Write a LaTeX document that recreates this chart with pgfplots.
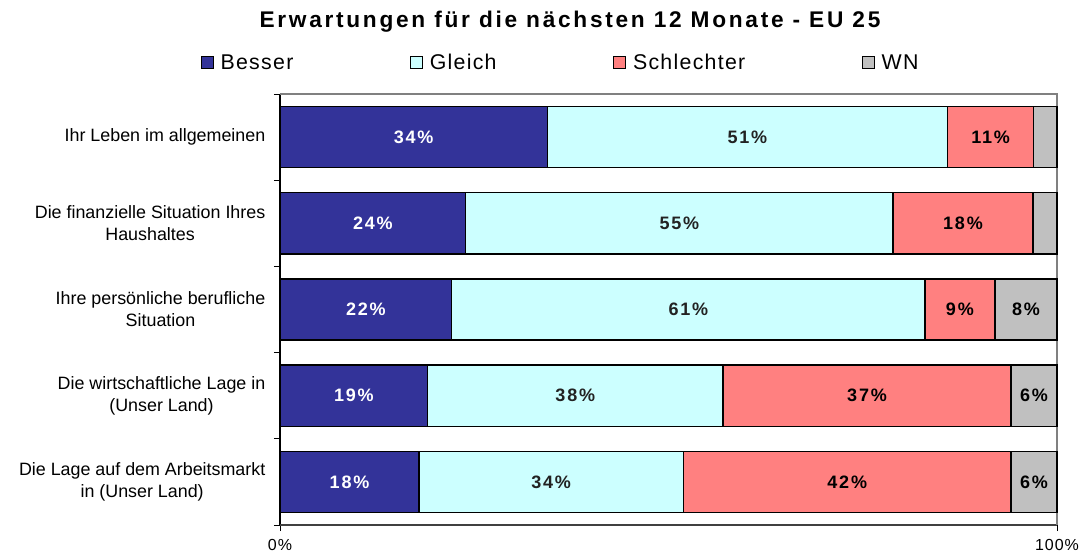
\documentclass[border=0pt]{standalone}
\usepackage{fontspec}
\setmainfont{Liberation Sans}
\newfontfamily\spacedfont[LetterSpace=6]{Liberation Sans}
\newfontfamily\barfont[LetterSpace=10]{Liberation Sans}
\newfontfamily\titlefont[LetterSpace=12]{Liberation Sans}
\usepackage{pgfplots}
\usepackage{pgfplotstable}
\pgfplotsset{compat=1.18}
\newlength\px \setlength\px{0.75pt}
\definecolor{besser}{HTML}{333399}
\definecolor{gleich}{HTML}{CCFFFF}
\definecolor{schlecht}{HTML}{FF8080}
\definecolor{wn}{HTML}{C0C0C0}
\definecolor{lbl}{HTML}{222222}

\pgfplotstableread{
y B G S W lB lG lS lW
4 34.4 51.5 11.1 3.0 34\% 51\% 11\% {}
3 23.9 55.0 18.0 3.1 24\% 55\% 18\% {}
2 22.1 60.9 9.0 8.0 22\% 61\% 9\% 8\%
1 19.0 38.0 37.1 5.9 19\% 38\% 37\% 6\%
0 17.9 34.0 42.2 5.9 18\% 34\% 42\% 6\%
}\datatable

\pgfplotsset{
  sq/.style={legend image code/.code={\draw[##1, line width=0.8pt] (0pt,-6\px) rectangle (12\px,6\px);}},
  barstyle/.style={draw=black, line width=1.1pt, sq},
}

\begin{document}
\begin{tikzpicture}
\useasboundingbox (0,0) rectangle (1081\px,557\px);
\begin{axis}[
  at={(280\px,32\px)}, anchor=south west,
  x=7.77\px, y=86.2\px,
  xmin=0, xmax=100, ymin=-0.5, ymax=4.5,
  xbar stacked, bar width=0.71,
  clip=false,
  axis line style={draw=none},
  xtick={0,100}, xticklabels={0\%,100\%},
  ytick={0,1,2,3,4},
  yticklabels={{Die Lage auf dem Arbeitsmarkt\\in (Unser Land)},{Die wirtschaftliche Lage in\\(Unser Land)},{Ihre persönliche berufliche\\Situation},{Die finanzielle Situation Ihres\\Haushaltes},{Ihr Leben im allgemeinen}},
  yticklabel style={align=center, font=\fontsize{13.4}{16.5}\selectfont, xshift=-10\px},
  xticklabel style={font=\spacedfont\fontsize{12}{14}\selectfont, yshift=-10\px},
  minor ytick={-0.5,0.5,...,4.5},
  minor xtick={0,100},
  major tick length=0pt, minor tick length=6\px,
  tick align=outside, tick pos=left,
  tick style={black, line width=0.6pt},
  point meta=explicit symbolic,
  nodes near coords,
  every node near coord/.append style={anchor=center, font=\barfont\bfseries\fontsize{13.5}{15}\selectfont},
  legend columns=4,
  legend style={at={(0.3617,1.072)}, anchor=center, draw=none, fill=none,
    font=\spacedfont\fontsize{16}{18}\selectfont,
    /tikz/every odd column/.append style={column sep=4\px},
    /tikz/every even column/.append style={column sep=114\px}},
]
\addplot[barstyle, fill=besser, every node near coord/.append style={text=white}] table[x=B, y=y, meta=lB] {\datatable};
\addplot[barstyle, fill=gleich, every node near coord/.append style={text=lbl}] table[x=G, y=y, meta=lG] {\datatable};
\addplot[barstyle, fill=schlecht, every node near coord/.append style={text=black}] table[x=S, y=y, meta=lS] {\datatable};
\addplot[barstyle, fill=wn, every node near coord/.append style={text=black}] table[x=W, y=y, meta=lW] {\datatable};
\legend{Besser,Gleich,Schlechter,WN}
\draw[gray, line width=1.2pt] (rel axis cs:0,1) -- (rel axis cs:1,1) -- (rel axis cs:1,0);
\draw[black!75, line width=0.9pt] (rel axis cs:0,0) -- (rel axis cs:1,0);
\draw[black, line width=0.9pt] (rel axis cs:0,0) -- (rel axis cs:0,1);
\end{axis}
\node[font=\titlefont\bfseries\fontsize{17}{20}\selectfont] at (570\px,535\px) {Erwartungen für die nächsten 12 Monate - EU 25};
\end{tikzpicture}
\end{document}
